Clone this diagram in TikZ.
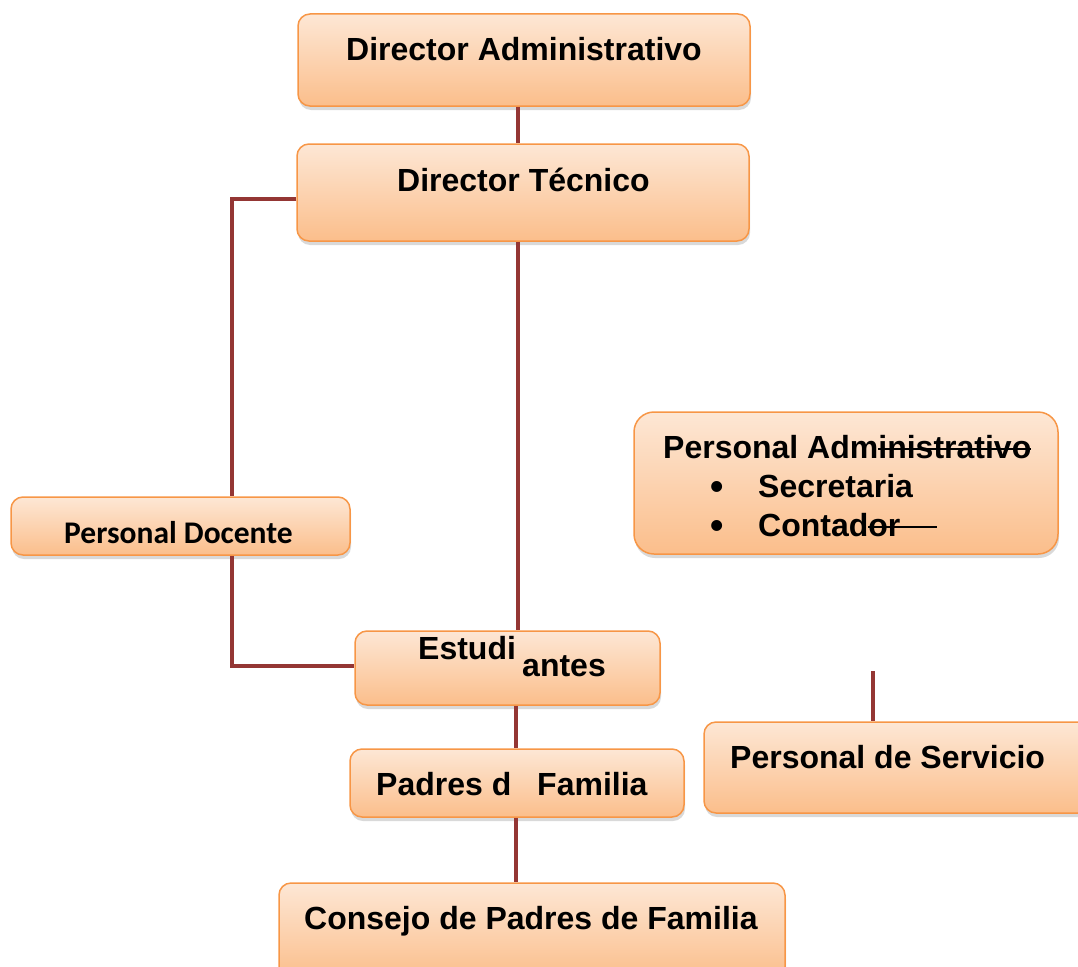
\documentclass[tikz,border=0pt]{standalone}
\usepackage{fontspec}
\setmainfont{Liberation Sans}
\newfontfamily\docfont{Carlito}
\usetikzlibrary{shadows}
\usetikzlibrary{positioning}
\definecolor{borde}{HTML}{F79646}
\definecolor{claro}{HTML}{FDE7D5}
\definecolor{naranja}{HTML}{FBBE8B}
\definecolor{linea}{HTML}{943634}
\tikzstyle{cargo}=[draw=borde,line width=1.5pt,rounded corners=12pt,top color=claro,bottom color=naranja,drop shadow={shadow xshift=1pt,shadow yshift=-4pt,opacity=0.3},inner sep=0pt]
\tikzstyle{rotulo}=[font=\bfseries\fontsize{32}{36}\selectfont,inner sep=0pt,anchor=base west]
\tikzstyle{conn}=[draw=linea,line width=3.5pt]
\newcommand{\tachado}[1]{\setbox0\hbox{#1}\rlap{\rule[0.26em]{\wd0}{2pt}}\box0}

\begin{document}
\begin{tikzpicture}[x=1pt,y=-1pt]
    \clip (0,0) rectangle (1078,966);

    % cajas
    \foreach \pos/\name/\ancho/\alto in {{(524,60)/dadm/452/92}, {(523,192.5)/dtec/452/97}, {(180.5,526)/pdoc/339/58}, {(507.5,668)/estu/305/74}, {(517,783)/pfam/334/68}, {(897,767.5)/pserv/386/91}, {(532,931)/cons/506/96}}
        \node[cargo,minimum width=\ancho,minimum height=\alto] (\name) at \pos {};
    \node[cargo,rounded corners=20pt,minimum width=424,minimum height=142] (padm) at (846,483) {};

    % textos
    \node[rotulo] (tdadm) at (346,60) {Director Administrativo};
    \node[rotulo] (tdtec) at (397,191) {Director Técnico};
    \node[rotulo,font=\docfont\bfseries\fontsize{31.5}{36}\selectfont] (tpdoc) at (64,543) {Personal Docente};
    \node[rotulo] (testu) at (418,659) {Estudi};
    \node[rotulo] (testu2) at (522,676) {antes};
    \node[rotulo] (tpfam) at (376,795) {Padres d};
    \node[rotulo] (tpfam2) at (537,795) {Familia};
    \node[rotulo] (tpserv) at (730,768) {Personal de Servicio};
    \node[rotulo] (tcons) at (304,929) {Consejo de Padres de Familia};
    \node[rotulo] (tpadm) at (663,458) {Personal Adm\tachado{inistrativo}};
    \foreach \yb/\name/\label in {497/sec/Secretaria, 536/cont/{Contad\tachado{or\hspace{1.15em}}}}{
        \node[rotulo,anchor=base,font=\bfseries\fontsize{38}{40}\selectfont] (b\name) at (717,\yb+2) {\textbullet};
        \node[rotulo] (t\name) at (758,\yb) {\label};
    }

    % conectores
    \coordinate (k1) at (232,199);
    \coordinate (k2) at (232,666);
    \coordinate (k3) at (518,0);
    \coordinate (k4) at (516,0);
    \coordinate (psup) at (873,671);
    \path[conn] (k3 |- dadm.south) -- (k3 |- dtec.north);
    \path[conn] (dtec.west |- k1) -- (k1) -- (k1 |- pdoc.north);
    \path[conn] (k1 |- pdoc.south) -- (k2) -- (estu.west |- k2);
    \path[conn] (k3 |- dtec.south) -- (k3 |- estu.north);
    \path[conn] (k4 |- estu.south) -- (k4 |- pfam.north);
    \path[conn] (k4 |- pfam.south) -- (k4 |- cons.north);
    \path[conn] (psup) -- (psup |- pserv.north);

\end{tikzpicture}
\end{document}
